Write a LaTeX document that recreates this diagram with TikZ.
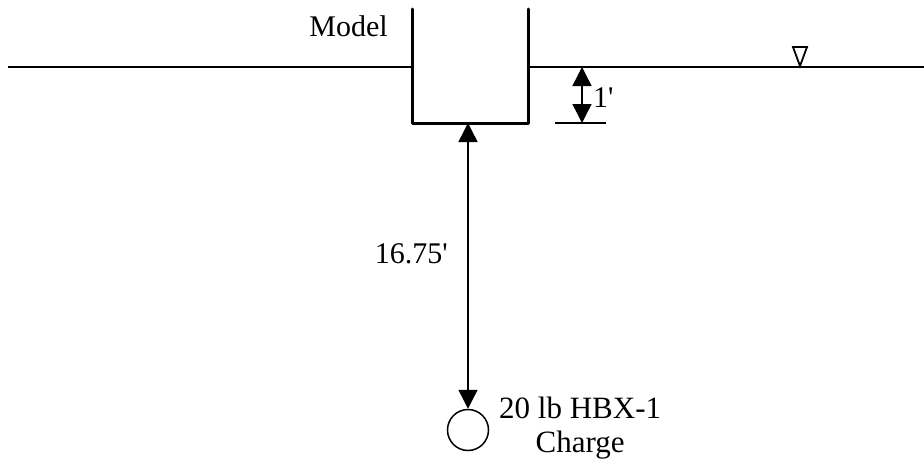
\documentclass[tikz,border=0pt]{standalone}
\usepackage{fontspec}
\setmainfont{Liberation Serif}
\usetikzlibrary{arrows.meta}
\begin{document}
\begin{tikzpicture}[x=1pt,y=-1pt,
  water/.style={line width=1.6pt},
  wall/.style={line width=3pt,line cap=round,line join=round},
  dim/.style={line width=1.4pt,{Triangle[width=19pt,length=19pt]}-{Triangle[width=19pt,length=19pt]}},
  lbl/.style={font=\fontsize{30}{30}\selectfont,inner sep=0pt}]
\useasboundingbox (0,0) rectangle (924,466);
% water surface
\coordinate (wl0) at (8,67);
\coordinate (wl1) at (412,67);
\coordinate (wr0) at (528,67);
\coordinate (wr1) at (924,67);
\draw[water] (wl0) -- (wl1);
\draw[water] (wr0) -- (wr1);
% model box
\coordinate (tl) at (412,9);
\coordinate (bl) at (412,123);
\coordinate (br) at (528,123);
\coordinate (tr) at (528,9);
\draw[wall] (tl) -- (bl) -- (br) -- (tr);
\node[lbl,anchor=base east] (model) at (388,36) {Model};
% free surface symbol
\coordinate (sa) at (800,66);
\coordinate (sb) at (793,47);
\coordinate (sc) at (807,47);
\draw[line width=1.8pt,line join=miter] (sa) -- (sb) -- (sc) -- cycle;
% 1 ft dimension
\coordinate (d1a) at (582,67);
\coordinate (d1b) at (582,123);
\coordinate (t0) at (555,123);
\coordinate (t1) at (606,123);
\draw[line width=1.2pt] (t0) -- (t1);
\draw[dim] (d1a) -- (d1b);
\node[lbl,anchor=base west] (one) at (593,107) {1\textquotesingle};
% charge
\node[circle,draw,line width=1.5pt,minimum size=41pt,inner sep=0pt] (charge) at (468,430) {};
\coordinate (top) at (468,123);
\draw[dim] (top) -- (charge.north);
\node[lbl,anchor=base east] (depth) at (448,263) {16.75\textquotesingle};
\node[inner sep=0pt,font=\fontsize{31}{34}\selectfont,align=center,anchor=base west] (clabel) at (499,452) {20 lb HBX-1\\Charge};
\end{tikzpicture}
\end{document}
